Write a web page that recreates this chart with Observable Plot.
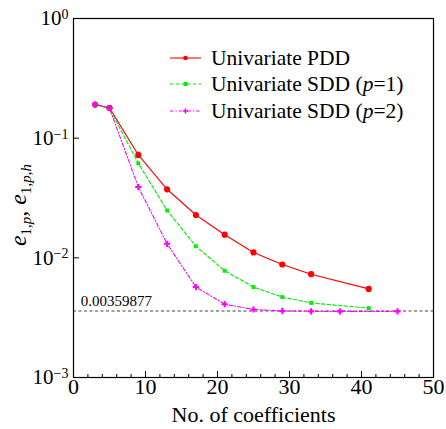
<!DOCTYPE html>
<html><head><meta charset="utf-8">
<script src="https://cdn.jsdelivr.net/npm/d3@7"></script>
<script src="https://cdn.jsdelivr.net/npm/@observablehq/plot@0.6"></script>
<style>body{margin:0;background:#fff} svg{display:block}</style>
</head><body><div id="chart"></div>
<script>
const nCoefPDD = [3, 5, 9, 13, 17, 21, 25, 29, 33, 41];
const errPDD = [0.191, 0.179, 0.0724, 0.0374, 0.0228, 0.0156, 0.0111, 0.0088, 0.0073, 0.0055];
const nCoefSDD1 = [3, 5, 9, 13, 17, 21, 25, 29, 33, 41];
const errSDD1 = [0.191, 0.177, 0.0617, 0.0249, 0.0125, 0.0078, 0.0057, 0.0047, 0.0042, 0.0038];
const nCoefSDD2 = [3, 5, 9, 13, 17, 21, 25, 29, 33, 37, 45];
const errSDD2 = [0.191, 0.178, 0.0391, 0.0131, 0.0057, 0.0041, 0.0037, 0.0036, 0.00357, 0.00357, 0.00357];
const seriesNames = ["Univariate PDD", "Univariate SDD (p=1)", "Univariate SDD (p=2)"];
const seriesColors = ["#ff0000", "#00ee00", "#ff00ff"];
const xTicks = [0, 10, 20, 30, 40, 50];
const xMinorTicks = d3.range(0, 51, 2);
const yTicks = [1e-3, 1e-2, 1e-1, 1];
const refValue = 0.00359877;
const refLabel = "0.00359877";
const refLabelX = 1;

const W = 446, H = 429, mL = 73, mR = 13, mT = 18, mB = 52;
const innerW = W - mL - mR, innerH = H - mT - mB;
const font = 'Liberation Serif, Times New Roman, serif';
const dashes = [null, "3.5,2.2", "3.5,2,1.2,2"];

const pdd = nCoefPDD.map((n, i) => ({n, e: errPDD[i]}));
const sdd1 = nCoefSDD1.map((n, i) => ({n, e: errSDD1[i]}));
const sdd2 = nCoefSDD2.map((n, i) => ({n, e: errSDD2[i]}));

const plot = Plot.plot({
  width: W, height: H,
  marginLeft: mL, marginRight: mR, marginTop: mT, marginBottom: mB,
  style: {fontFamily: font, fontSize: "21px", color: "black", background: "white"},
  x: {domain: [0, 50]},
  y: {type: "log", domain: [1e-3, 1]},
  marks: [
    Plot.ruleY([refValue], {stroke: "#444", strokeDasharray: "3,2.5", strokeWidth: 1.1}),
    Plot.text([refValue], {x: refLabelX, y: d => d, text: () => refLabel, textAnchor: "start", lineAnchor: "bottom", dy: -5, fontSize: 15}),
    Plot.line(pdd, {x: "n", y: "e", stroke: seriesColors[0], strokeWidth: 1.1}),
    Plot.line(sdd1, {x: "n", y: "e", stroke: seriesColors[1], strokeWidth: 1.1, strokeDasharray: dashes[1]}),
    Plot.line(sdd2, {x: "n", y: "e", stroke: seriesColors[2], strokeWidth: 1.1, strokeDasharray: dashes[2]}),
    Plot.dot(pdd, {x: "n", y: "e", r: 3.1, fill: seriesColors[0]}),
    Plot.dot(sdd1, {x: "n", y: "e", r: 2.2, symbol: "square", fill: seriesColors[1]}),
    Plot.dot(sdd2, {x: "n", y: "e", r: 2.6, symbol: "cross", fill: seriesColors[2]}),
    Plot.tickX(xMinorTicks, {x: d => d, insetTop: innerH - 3, stroke: "black"}),
    Plot.tickX(xTicks, {x: d => d, insetTop: innerH - 6, stroke: "black"}),
    Plot.tickY(yTicks, {y: d => d, insetRight: innerW - 6, stroke: "black"}),
    Plot.axisX(xTicks, {tickSize: 0, tickPadding: 1, label: "No. of coefficients", labelAnchor: "center", labelArrow: "none", labelOffset: 44, fontSize: 22}),
    Plot.axisY(yTicks, {tickSize: 0, tickPadding: 5, label: null, fontSize: 21,
      tickFormat: d => { const e = Math.round(Math.log10(d)); return e < 0 ? "\u2212" + (-e) : String(e); }}),
    Plot.frame({stroke: "black", strokeWidth: 1.2})
  ]
});

const svg = d3.select(plot);
svg.selectAll('g[aria-label="y-axis tick label"] text').each(function() {
  const t = d3.select(this);
  const exp = t.text();
  t.text("10");
  t.append("tspan").attr("dy", "-0.45em").attr("font-size", "14px").text(exp);
});

// y-axis label
const yl = svg.append("text")
  .attr("transform", "translate(26,205) rotate(-90)")
  .attr("text-anchor", "middle").attr("font-family", font).attr("font-size", 24).attr("fill", "black");
function sub(parts) {
  yl.append("tspan").attr("font-style", "italic").text("e");
  let first = true;
  parts.forEach(([s, it]) => {
    const ts = yl.append("tspan").attr("font-size", 15).text(s);
    if (it) ts.attr("font-style", "italic");
    if (first) { ts.attr("dy", 5); first = false; }
  });
}
sub([["1,", false], ["p", true]]);
yl.append("tspan").attr("dy", -5).text(", ");
sub([["1,", false], ["p", true], [",", false], ["h", true]]);

// legend
const legendRows = [58, 84, 111];
const lg = svg.append("g").attr("font-family", font).attr("font-size", 21.5).attr("text-anchor", "start");
seriesNames.forEach((name, i) => {
  const y = legendRows[i];
  const l = lg.append("line").attr("x1", 170).attr("x2", 201).attr("y1", y).attr("y2", y)
    .attr("stroke", seriesColors[i]).attr("stroke-width", 1.1);
  if (dashes[i]) l.attr("stroke-dasharray", dashes[i]);
  if (i === 0) lg.append("circle").attr("cx", 185.5).attr("cy", y).attr("r", 2.3).attr("fill", seriesColors[i]);
  else if (i === 1) lg.append("rect").attr("x", 183.5).attr("y", y - 2).attr("width", 4).attr("height", 4).attr("fill", seriesColors[i]);
  else lg.append("path").attr("d", d3.symbol(d3.symbolCross, 14)()).attr("transform", `translate(185.5,${y})`).attr("fill", seriesColors[i]);
  const t = lg.append("text").attr("x", 211).attr("y", y).attr("dy", "0.32em").attr("fill", "black");
  const m = name.match(/^(.*\()p(=.*)$/);
  if (m) {
    t.append("tspan").text(m[1]);
    t.append("tspan").attr("font-style", "italic").text("p");
    t.append("tspan").text(m[2]);
  } else t.text(name);
});

document.getElementById("chart").appendChild(plot);
</script>
</body></html>
